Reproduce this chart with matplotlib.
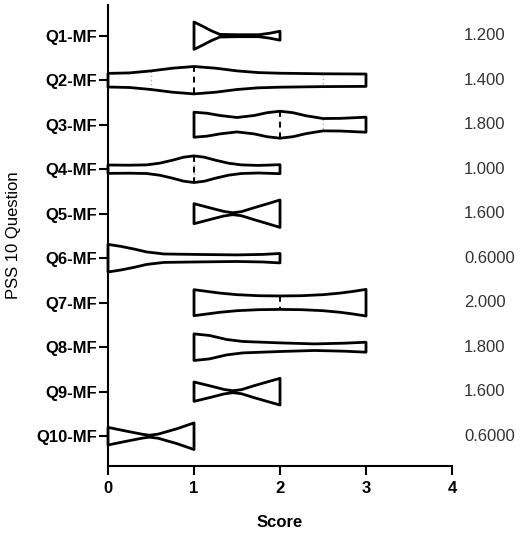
import numpy as np
import matplotlib
matplotlib.use("Agg")
import matplotlib.pyplot as plt

plt.rcParams["font.family"] = ["Liberation Sans", "DejaVu Sans"]

# question labels and the mean shown on the right
questions = ["Q1-MF", "Q2-MF", "Q3-MF", "Q4-MF", "Q5-MF",
             "Q6-MF", "Q7-MF", "Q8-MF", "Q9-MF", "Q10-MF"]
means = [1.2, 1.4, 1.8, 1.0, 1.6, 0.6, 2.0, 1.8, 1.6, 0.6]
medians = [1, 1, 2, 1, 2, 0, 2, 1, 2, 1]
quart_low = [1, 0.5, 1, 1, 1, 0, 1, 1, 1, 0]
quart_high = [2, 2.5, 2.5, 1, 2, 0, 3, 3, 2, 1]

# violin outlines: score and half width (in row units)
q1_score = [1.0, 1.1, 1.2, 1.3, 1.5, 1.75, 1.88, 2.0]
q1_width = [0.308, 0.213, 0.112, 0.030, 0.022, 0.022, 0.055, 0.101]
q2_score = [0, 0.25, 0.5, 0.75, 1.0, 1.25, 1.5, 1.75, 2.0, 2.5, 3.0]
q2_width = [0.153, 0.164, 0.209, 0.270, 0.308, 0.270, 0.209, 0.171, 0.157, 0.144, 0.139]
q3_score = [1.0, 1.15, 1.3, 1.5, 1.7, 1.85, 2.0, 2.15, 2.3, 2.5, 2.7, 3.0]
q3_width = [0.281, 0.258, 0.207, 0.162, 0.207, 0.270, 0.303, 0.270, 0.202, 0.139, 0.142, 0.169]
q4_score = [0, 0.25, 0.45, 0.6, 0.75, 0.88, 1.0, 1.12, 1.25, 1.4, 1.55, 1.75, 2.0]
q4_width = [0.094, 0.090, 0.097, 0.135, 0.202, 0.270, 0.299, 0.270, 0.202, 0.135, 0.097, 0.085, 0.101]
q5_score = [1.0, 1.2, 1.35, 1.45, 1.55, 1.7, 1.85, 2.0]
q5_width = [0.225, 0.124, 0.050, 0.022, 0.045, 0.135, 0.220, 0.308]
q6_score = [0, 0.15, 0.3, 0.45, 0.65, 1.0, 1.5, 1.8, 2.0]
q6_width = [0.310, 0.265, 0.207, 0.140, 0.095, 0.085, 0.074, 0.085, 0.106]
q7_score = [1.0, 1.15, 1.3, 1.5, 1.75, 2.0, 2.25, 2.5, 2.7, 2.85, 3.0]
q7_width = [0.292, 0.254, 0.216, 0.180, 0.157, 0.151, 0.157, 0.180, 0.216, 0.254, 0.299]
q8_score = [1.0, 1.18, 1.38, 1.57, 2.0, 2.4, 2.75, 3.0]
q8_width = [0.299, 0.263, 0.173, 0.128, 0.097, 0.074, 0.090, 0.112]
q9_score = [1.0, 1.2, 1.35, 1.45, 1.55, 1.7, 1.85, 2.0]
q9_width = [0.218, 0.124, 0.050, 0.022, 0.045, 0.135, 0.218, 0.300]
q10_score = [0, 0.2, 0.4, 0.48, 0.58, 0.8, 1.0]
q10_width = [0.198, 0.119, 0.043, 0.022, 0.045, 0.166, 0.299]

profiles = [(q1_score, q1_width), (q2_score, q2_width), (q3_score, q3_width),
            (q4_score, q4_width), (q5_score, q5_width), (q6_score, q6_width),
            (q7_score, q7_width), (q8_score, q8_width), (q9_score, q9_width),
            (q10_score, q10_width)]

fig = plt.figure(figsize=(5.22, 5.36), dpi=100)
ax = fig.add_axes([108 / 522, 70 / 536, 344 / 522, 461 / 536])

for i, (xs, ws) in enumerate(profiles):
    pos = i + 1
    xs = np.array(xs)
    ws = np.array(ws)
    px = np.concatenate([xs, xs[::-1]])
    py = np.concatenate([pos - ws, (pos + ws)[::-1]])
    ax.fill(px, py, facecolor="white", edgecolor="none", zorder=2)
    # quartiles (dotted) and median (dashed) sit under the outline
    for q in (quart_low[i], quart_high[i]):
        h = np.interp(q, xs, ws)
        ax.plot([q, q], [pos - h, pos + h], color="#b0b0b0", lw=1.0,
                linestyle=(0, (1, 2)), zorder=3)
    h = np.interp(medians[i], xs, ws)
    ax.plot([medians[i], medians[i]], [pos - h, pos + h], color="black",
            lw=1.4, linestyle=(0, (3, 2.5)), zorder=3)
    ax.fill(px, py, facecolor="none", edgecolor="black", lw=2.0,
            joinstyle="round", zorder=4, clip_on=False)
    ax.text(1.035, pos, f"{means[i]:#.4g}", transform=ax.get_yaxis_transform(),
            ha="left", va="center", fontsize=12, color="#333333", clip_on=False)

ax.set_xlim(0, 4)
ax.set_ylim(10.67, 0.31)
ax.set_xticks([0, 1, 2, 3, 4])
ax.set_yticks(range(1, 11))
ax.set_yticklabels(questions, fontweight="bold", fontsize=12)
for lab in ax.get_xticklabels():
    lab.set_fontweight("bold")
    lab.set_fontsize(12)

for s in ("top", "right"):
    ax.spines[s].set_visible(False)
for s in ("left", "bottom"):
    ax.spines[s].set_linewidth(1.5)
    ax.spines[s].set_zorder(5)
ax.tick_params(axis="both", length=6.5, width=1.5, color="black")
ax.tick_params(axis="y", pad=1.5)
ax.tick_params(axis="x", pad=4)

ax.set_xlabel("Score", fontweight="bold", fontsize=12, labelpad=14)
ax.set_ylabel("PSS 10 Question", fontsize=12, labelpad=11)

fig.savefig("out.png", dpi=100)
